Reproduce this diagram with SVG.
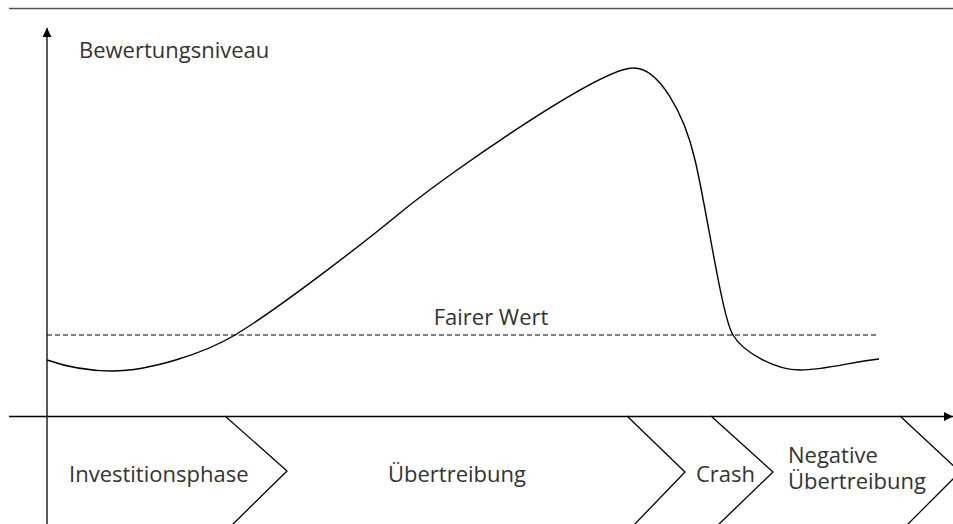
<svg xmlns="http://www.w3.org/2000/svg" width="953" height="524" viewBox="0 0 953 524">
<style>
.ln{fill:none;stroke:#000;stroke-width:1.3}
.cv{fill:none;stroke:#000;stroke-width:1.4}
.ds{fill:none;stroke:#000;stroke-width:1.1;stroke-dasharray:5 3}
.t{font-family:"Open Sans","Noto Sans",sans-serif;font-size:22px;fill:#333}
</style>
<defs>
<marker id="ah" viewBox="0 0 10 10" refX="10" refY="5" markerWidth="10" markerHeight="9" markerUnits="userSpaceOnUse" orient="auto"><path d="M0,0 L10,5 L0,10 Z" fill="#000"/></marker>
</defs>
<rect width="953" height="524" fill="#fff"/>
<line x1="9" y1="8.5" x2="953" y2="8.5" stroke="#555" stroke-width="1.3"/>
<g id="axes">
<line class="ln" x1="47" y1="524" x2="47" y2="28" marker-end="url(#ah)"/>
<line class="ln" x1="9" y1="416.5" x2="953" y2="416.5" marker-end="url(#ah)"/>
</g>
<g id="fair-value">
<line class="ds" x1="47" y1="335" x2="879" y2="335"/>
<text class="t" x="491" y="325" text-anchor="middle">Fairer Wert</text>
</g>
<g id="curve">
<path class="cv" d="M47,360 C70,368 90,371 112,371 C150,371 205,353 235,335 C275,311 360,246 400,213 C450,172 600,68 633,68 C658,67 684,112 695,160 C706,205 722,318 733,335 C743,352 775,370 800,370 C825,370 855,361 879,359"/>
</g>
<g id="ylabel"><text class="t" x="79" y="58">Bewertungsniveau</text></g>
<g id="connectors">
<polyline class="ln" points="225,416 287,471 231,526"/>
<polyline class="ln" points="627,416 685,472 633,526"/>
<polyline class="ln" points="711,416 773,472 717,526"/>
<polyline class="ln" points="900,416 960,472 904,528"/>
</g>
<g id="phase-invest"><text class="t" x="69" y="482">Investitionsphase</text></g>
<g id="phase-uebertreibung"><text class="t" x="457" y="482" text-anchor="middle">Übertreibung</text></g>
<g id="phase-crash"><text class="t" x="696" y="482">Crash</text></g>
<g id="phase-negativ"><text class="t" x="788" y="463">Negative</text><text class="t" x="788" y="489">Übertreibung</text></g>
</svg>
